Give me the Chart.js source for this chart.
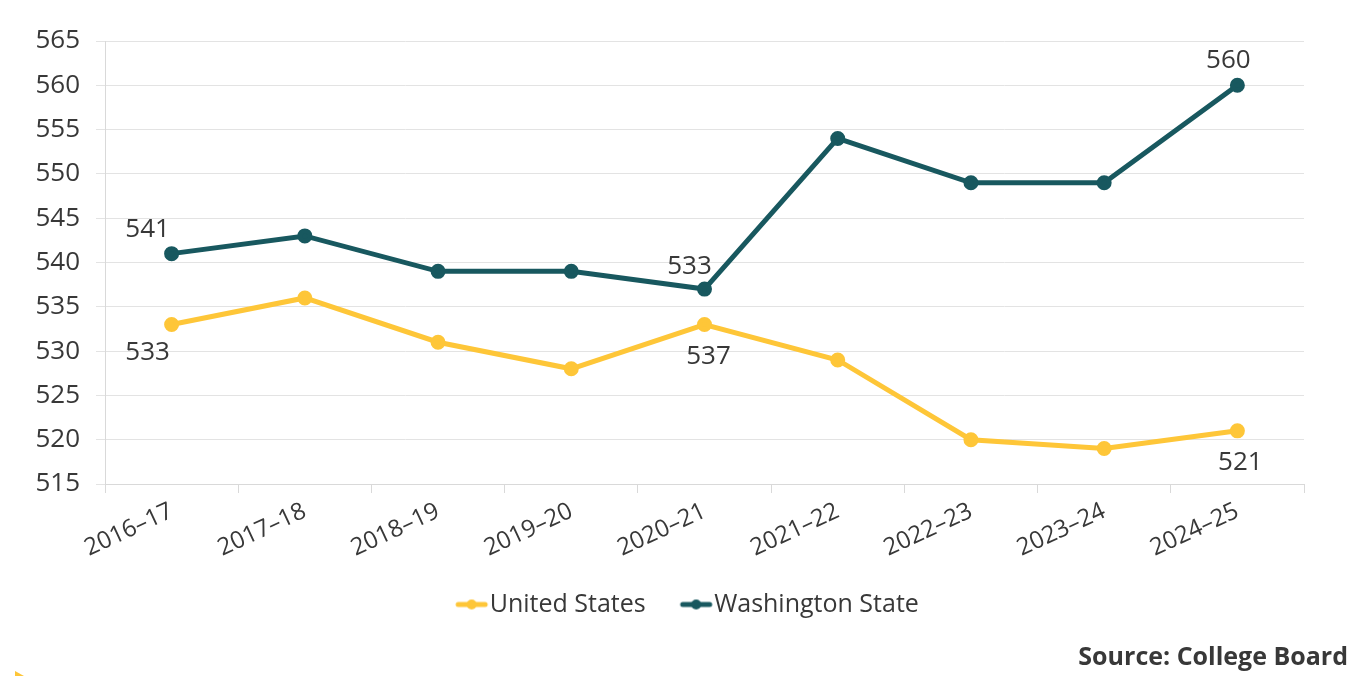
<!DOCTYPE html>
<html lang="en">
<head>
  <meta charset="UTF-8">
  <title>Average SAT Math score</title>
  <script src="https://cdn.jsdelivr.net/npm/chart.js@4.4.1/dist/chart.umd.min.js"></script>
  <style>
    html, body {
      margin: 0;
      padding: 0;
      background: #fff;
    }

    .wrap {
      width: 1360px;
      height: 676px;
    }
  </style>
</head>
<body>
  <div class="wrap">
    <canvas id="scoreChart"></canvas>
  </div>
  <script>
    const categories = ['2016–17', '2017–18', '2018–19', '2019–20', '2020–21', '2021–22', '2022–23', '2023–24', '2024–25'];
    const usValues = [533, 536, 531, 528, 533, 529, 520, 519, 521];
    const waValues = [541, 543, 539, 539, 537, 554, 549, 549, 560];
    // labels as printed on the original chart
    const usLabels = ['533', null, null, null, '537', null, null, null, '521'];
    const waLabels = ['541', null, null, null, '533', null, null, null, '560'];
    const yMin = 515;
    const yMax = 565;
    const yStep = 5;

    const FONT = '"Open Sans", "Noto Sans", sans-serif';
    const TEXT = '#383838';
    const YELLOW = '#FEC638';
    const TEAL = '#18585F';

    // legend symbol: line with a dot, drawn on the right side of a wider transparent canvas
    function makeSwatch(color) {
      const c = document.createElement('canvas');
      c.width = 72;
      c.height = 12;
      const g = c.getContext('2d');
      g.strokeStyle = color;
      g.fillStyle = color;
      g.lineWidth = 5;
      g.lineCap = 'round';
      g.beginPath();
      g.moveTo(41, 6);
      g.lineTo(68, 6);
      g.stroke();
      g.beginPath();
      g.arc(54.5, 6, 5, 0, Math.PI * 2);
      g.fill();
      return c;
    }

    const pointLabels = {
      id: 'pointLabels',
      afterDatasetsDraw(chart, args, opts) {
        const ctx = chart.ctx;
        ctx.save();
        ctx.font = '26px ' + FONT;
        ctx.fillStyle = TEXT;
        ctx.textAlign = 'center';
        ctx.textBaseline = 'middle';
        chart.data.datasets.forEach(function(ds, i) {
          const meta = chart.getDatasetMeta(i);
          ds.valueLabels.forEach(function(t, j) {
            if (!t) return;
            const p = meta.data[j];
            const off = opts.offsets[i][j];
            ctx.fillText(t, p.x + off[0], p.y + off[1]);
          });
        });
        ctx.restore();
      }
    };

    const corner = {
      id: 'corner',
      afterDraw(chart) {
        const ctx = chart.ctx;
        ctx.save();
        ctx.fillStyle = YELLOW;
        ctx.beginPath();
        ctx.moveTo(15, 671);
        ctx.lineTo(24, 676);
        ctx.lineTo(15, 676);
        ctx.closePath();
        ctx.fill();
        ctx.restore();
      }
    };

    const ctx = document.getElementById('scoreChart').getContext('2d');
    const scoreChart = new Chart(ctx, {
      type: 'line',
      data: {
        labels: categories,
        datasets: [{
          label: 'United States',
          data: usValues,
          valueLabels: usLabels,
          borderColor: YELLOW,
          backgroundColor: YELLOW,
          borderWidth: 5,
          pointRadius: 5,
          pointHoverRadius: 5,
          fill: false,
          tension: 0
        }, {
          label: 'Washington State',
          data: waValues,
          valueLabels: waLabels,
          borderColor: TEAL,
          backgroundColor: TEAL,
          borderWidth: 5,
          pointRadius: 5,
          pointHoverRadius: 5,
          fill: false,
          tension: 0
        }]
      },
      options: {
        responsive: true,
        maintainAspectRatio: false,
        animation: false,
        layout: {
          padding: { top: 41, right: 12, left: 0, bottom: 0 }
        },
        scales: {
          x: {
            offset: true,
            grid: {
              drawOnChartArea: false,
              color: '#d9d9d9',
              tickLength: 9,
              offset: true
            },
            border: { color: '#d9d9d9' },
            ticks: {
              color: TEXT,
              font: { family: FONT, size: 24 },
              minRotation: 25,
              maxRotation: 25,
              padding: 4
            },
            afterFit(scale) {
              scale.height = 100;
            }
          },
          y: {
            min: yMin,
            max: yMax,
            grid: {
              color: '#e3e3e3',
              tickLength: 9
            },
            border: { color: '#d9d9d9' },
            ticks: {
              stepSize: yStep,
              color: TEXT,
              font: { family: FONT, size: 26 },
              padding: 16
            },
            afterFit(scale) {
              scale.width = 105;
            }
          },
          yr: {
            position: 'right',
            display: true,
            grid: { display: false },
            border: { display: false },
            ticks: { display: false },
            afterFit(scale) {
              scale.width = 44;
            }
          }
        },
        plugins: {
          legend: {
            position: 'bottom',
            labels: {
              usePointStyle: true,
              pointStyleWidth: 48,
              padding: 8,
              color: TEXT,
              font: { family: FONT, size: 25 },
              generateLabels(chart) {
                return chart.data.datasets.map(function(ds, i) {
                  return {
                    text: ds.label,
                    pointStyle: makeSwatch(ds.borderColor),
                    fillStyle: ds.borderColor,
                    strokeStyle: ds.borderColor,
                    fontColor: TEXT,
                    lineWidth: 0,
                    datasetIndex: i
                  };
                });
              }
            }
          },
          title: {
            display: true,
            text: 'Source: College Board',
            position: 'bottom',
            align: 'end',
            color: TEXT,
            font: { family: FONT, size: 25, weight: 'bold' },
            padding: { top: 16, bottom: 3 }
          },
          tooltip: { enabled: false },
          pointLabels: {
            offsets: [
              [[-24, 28], null, null, null, [4, 32], null, null, null, [3, 32]],
              [[-24, -24], null, null, null, [-15, -22], null, null, null, [-9, -25]]
            ]
          }
        }
      },
      plugins: [pointLabels, corner]
    });
  </script>
</body>
</html>
